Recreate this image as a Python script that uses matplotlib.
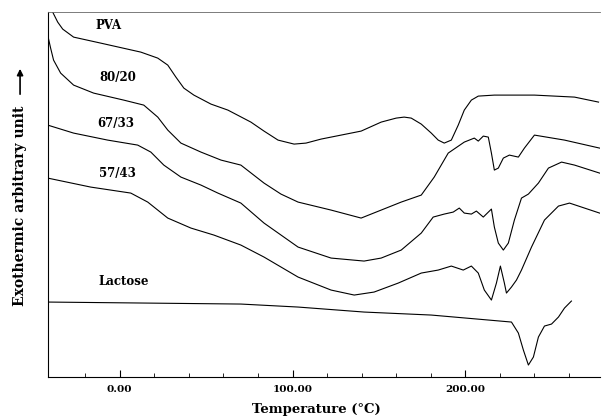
import matplotlib.pyplot as plt

# DSC thermograms, temperature in deg C vs. exothermic signal (arbitrary units)
t_pva = [-38.8, -35.9, -33.0, -26.7, -11.0, 12.2, 22.0, 27.8, 32.5, 37.1, 42.9, 52.8, 62.6,
         75.9, 83.5, 91.6, 100.9, 107.8, 116.5, 128.1, 139.7, 151.3, 160.0, 164.6, 168.7,
         174.5, 180.3, 184.3, 187.8, 191.9, 195.9, 199.4, 203.5, 207.5, 216.8, 240.0, 263.2, 277.1]
s_pva = [365, 355, 348, 340, 334, 325, 319, 312, 300, 289, 282, 273, 267,
         255, 246, 237, 233, 234, 238, 242, 246, 255, 259, 260, 259,
         253, 244, 237, 234, 237, 252, 267, 277, 281, 282, 282, 280, 275]

t_8020 = [-41.7, -40.0, -38.3, -34.2, -26.7, -15.1, 2.3, 13.9, 22.0, 27.8, 35.4, 47.0, 58.6,
          70.1, 83.5, 93.3, 103.2, 122.3, 131.0, 139.7, 151.3, 162.9, 174.5, 182.0, 190.1,
          199.4, 205.2, 207.5, 210.4, 213.3, 215.1, 216.8, 219.1, 222.0, 225.5, 230.7, 234.2,
          240.0, 257.4, 277.7]
s_8020 = [342, 329, 317, 304, 292, 284, 277, 272, 260, 247, 234, 225, 217,
          212, 194, 183, 175, 167, 163, 159, 167, 175, 182, 200, 224,
          235, 239, 236, 241, 240, 224, 207, 209, 219, 222, 220, 229,
          242, 237, 229]

t_6733 = [-41.7, -26.7, -7.0, 10.4, 18.0, 25.5, 35.4, 47.0, 56.8, 70.1, 83.5, 103.2, 122.3,
          141.4, 151.3, 162.9, 174.5, 181.4, 187.8, 193.0, 196.5, 199.4, 203.5, 206.4, 210.4,
          215.1, 216.8, 219.1, 222.0, 224.9, 228.4, 232.5, 236.5, 242.3, 248.1, 255.7, 263.2, 277.7]
s_6733 = [252, 244, 237, 232, 225, 212, 200, 192, 184, 174, 154, 130, 119,
          116, 119, 127, 144, 160, 163, 165, 169, 164, 163, 166, 160,
          168, 150, 134, 127, 134, 157, 179, 183, 194, 209, 215, 212, 204]

t_5743 = [-41.7, -16.8, 6.4, 16.2, 27.8, 41.2, 54.5, 70.1, 83.5, 103.2, 122.3, 135.7, 147.2,
          161.2, 174.5, 184.3, 191.9, 198.8, 203.5, 207.5, 211.0, 215.1, 218.0, 220.3, 222.6,
          223.8, 226.7, 229.6, 232.5, 238.3, 245.8, 253.9, 260.3, 277.7]
s_5743 = [199, 190, 184, 175, 159, 149, 142, 132, 120, 100, 87, 82, 85,
          94, 104, 107, 111, 107, 111, 104, 87, 77, 94, 111, 94,
          84, 90, 97, 107, 130, 157, 171, 174, 164]

t_lact = [-41.7, 70.1, 103.2, 141.4, 180.3, 226.7, 230.7, 233.6, 236.5, 239.4, 242.3,
          245.8, 249.9, 253.9, 257.4, 261.4]
s_lact = [75, 73, 70, 65, 62, 55, 44, 27, 12, 20, 40, 51, 53, 60, 69, 76]

labels = ["PVA", "80/20", "67/33", "57/43", "Lactose"]
label_t = [-6.4, -1.2, -2.3, -1.2, 2.3]
label_s = [352, 300, 254, 204, 96]

fnt = dict(family="DejaVu Serif", weight="bold", size=7.5)

fig = plt.figure(figsize=(6.08, 4.18), dpi=100)
ax = fig.add_axes([0.079, 0.098, 0.908, 0.873])

for t, s in [(t_pva, s_pva), (t_8020, s_8020), (t_6733, s_6733),
             (t_5743, s_5743), (t_lact, s_lact)]:
    ax.plot(t, s, color="black", lw=0.8)

for lab, x, y in zip(labels, label_t, label_s):
    ax.text(x, y, lab, ha="center", va="center", **dict(fnt, size=8.5))

ax.set_xlim(-41.5, 278)
ax.set_ylim(0, 365)
ax.set_xticks([0, 100, 200])
ax.set_xticklabels(["0.00", "100.00", "200.00"], **fnt)
ax.set_xticks(range(-20, 280, 20), minor=True)
ax.tick_params(axis="x", which="major", direction="in", length=5, width=0.8, pad=6)
ax.tick_params(axis="x", which="minor", direction="in", length=3, width=0.6)
ax.set_yticks([])
ax.spines["right"].set_visible(False)
ax.spines["top"].set_linewidth(0.6)
ax.spines["top"].set_color("0.4")
ax.spines["left"].set_linewidth(0.8)
ax.spines["bottom"].set_linewidth(0.8)

fig.text(0.52, 0.021, "Temperature (°C)", ha="center", va="center", **dict(fnt, size=9.5))
fig.text(0.033, 0.507, "Exothermic arbitrary unit", rotation=90,
         ha="center", va="center", **dict(fnt, size=10))
ax.annotate("", xy=(0.033, 0.842), xytext=(0.033, 0.768), xycoords="figure fraction",
            arrowprops=dict(arrowstyle="-|>", color="black", lw=1.2, mutation_scale=9))

fig.savefig("out.png", dpi=100)
